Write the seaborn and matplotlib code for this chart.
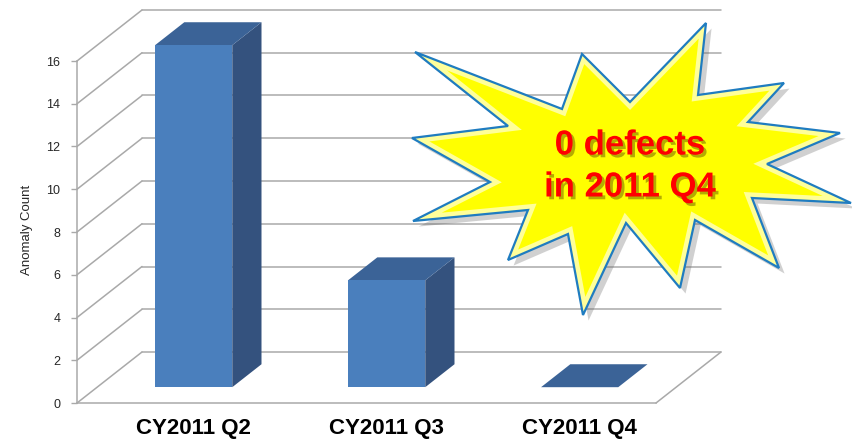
import matplotlib
matplotlib.use("Agg")
import matplotlib.pyplot as plt
import matplotlib.patheffects as pe
import matplotlib.transforms as mtransforms
from matplotlib.patches import Polygon
from matplotlib import font_manager as fm
import pandas as pd
import seaborn as sns

# ── data ───────────────────────────────────────────────────────────────────
quarters = ["CY2011 Q2", "CY2011 Q3", "CY2011 Q4"]
anomalies = [16, 5, 0]
y_ticks = [0, 2, 4, 6, 8, 10, 12, 14, 16]
callout_lines = ["0 defects", "in 2011 Q4"]

# ── layout / style ─────────────────────────────────────────────────────────
W, H, DPI = 853, 444, 100
AX_PX = (77, 41, 579, 342)          # left, bottom, width, height in pixels
DEPTH_PX = (65, 51)                 # oblique depth vector (pixels)
BAR_D0, BAR_D1 = 0.31, 0.76         # bar front / back depth fraction

FRONT = "#4a7fbd"
SIDE = "#34527e"
TOP = "#3b6397"
GRID = "#a9a9a9"

sns.set_theme(style="white")
names = {f.name for f in fm.fontManager.ttflist}
plt.rcParams["font.family"] = ["Liberation Sans", "DejaVu Sans"]
narrow = "Liberation Sans Narrow" in names

fig = plt.figure(figsize=(W / DPI, H / DPI), dpi=DPI)
fig.patch.set_facecolor("white")
ax = fig.add_axes([AX_PX[0] / W, AX_PX[1] / H, AX_PX[2] / W, AX_PX[3] / H])

df = pd.DataFrame({"quarter": quarters, "count": anomalies})
sns.barplot(data=df, x="quarter", y="count", width=0.4, color=FRONT,
            saturation=1, linewidth=0, ax=ax, zorder=5)

ax.set_xlim(-0.5, len(quarters) - 0.5)
ax.set_ylim(0, max(y_ticks))
px_x = AX_PX[2] / len(quarters)
px_y = AX_PX[3] / max(y_ticks)


def off(d):
    """Depth offset converted to data units."""
    return DEPTH_PX[0] * d / px_x, DEPTH_PX[1] * d / px_y


xl, xr = ax.get_xlim()
bx, by = off(1.0)

# back wall grid + left wall diagonals
for v in y_ticks:
    ax.plot([xl + bx, xr + bx], [v + by, v + by], color=GRID, lw=1.1,
            clip_on=False, zorder=1)
    ax.plot([xl, xl + bx], [v, v + by], color=GRID, lw=1.1,
            clip_on=False, zorder=1)
# floor right edge
ax.plot([xr, xr + bx], [0, by], color=GRID, lw=1.1, clip_on=False, zorder=1)

# 3-D bars built from seaborn's patches
dx0, dy0 = off(BAR_D0)
dx1, dy1 = off(BAR_D1)
for patch in ax.patches:
    x0, w, h = patch.get_x(), patch.get_width(), patch.get_height()
    x1 = x0 + w
    patch.set_x(x0 + dx0)
    patch.set_y(dy0)
    patch.set_clip_on(False)
    side = Polygon([(x1 + dx0, dy0), (x1 + dx1, dy1), (x1 + dx1, h + dy1),
                    (x1 + dx0, h + dy0)], closed=True, facecolor=SIDE,
                   edgecolor="none", clip_on=False, zorder=4)
    top = Polygon([(x0 + dx0, h + dy0), (x1 + dx0, h + dy0),
                   (x1 + dx1, h + dy1), (x0 + dx1, h + dy1)], closed=True,
                  facecolor=TOP, edgecolor="none", clip_on=False, zorder=4)
    ax.add_patch(side)
    ax.add_patch(top)

# axes cosmetics
for s in ["top", "right"]:
    ax.spines[s].set_visible(False)
for s in ["left", "bottom"]:
    ax.spines[s].set_color(GRID)
    ax.spines[s].set_linewidth(1.1)
ax.set_yticks(y_ticks)
ax.tick_params(axis="y", left=True, length=4, width=1, color=GRID, pad=8,
               labelsize=9, labelcolor="#262626")
ax.tick_params(axis="x", bottom=False, length=0, pad=11)
ax.set_xlabel("")
ax.set_ylabel("Anomaly Count", fontsize=9.5, color="#262626")
ax.yaxis.set_label_coords((33 - AX_PX[0]) / AX_PX[2], 0.505)

shift = mtransforms.ScaledTranslation(DEPTH_PX[0] * BAR_D0 / DPI, 0,
                                      fig.dpi_scale_trans)
for lab in ax.get_xticklabels():
    lab.set_transform(lab.get_transform() + shift)
    lab.set_fontweight("bold")
    lab.set_color("black")
    if narrow:
        lab.set_family("Liberation Sans Narrow")
        lab.set_fontsize(20)
    else:
        lab.set_fontsize(16)

# ── starburst callout (pixel coordinates, origin top-left) ────────────────
star = [(415, 52), (562, 109), (582, 54), (630, 102), (706, 23), (698, 95),
        (784, 83), (748, 122), (840, 133), (767, 164), (851, 203), (752, 198),
        (779, 268), (695, 220), (680, 288), (626, 223), (583, 315), (568, 234),
        (508, 260), (528, 210), (413, 221), (490, 182), (412, 138), (508, 126)]
px_trans = mtransforms.Affine2D().scale(1 / W, -1 / H).translate(0, 1) + fig.transFigure

fill = Polygon(star, closed=True, facecolor="#ffff00", edgecolor="none",
               transform=px_trans, zorder=10,
               path_effects=[pe.SimplePatchShadow(offset=(4, -4),
                                                  shadow_rgbFace="#666666",
                                                  alpha=0.3), pe.Normal()])
fig.add_artist(fill)
glow = Polygon(star, closed=True, facecolor="none", edgecolor="#ffff9a",
               lw=8, transform=px_trans, zorder=11)
fig.add_artist(glow)
glow.set_clip_path(fill)
edge = Polygon(star, closed=True, facecolor="none", edgecolor="#1f7cc0",
               lw=1.6, joinstyle="miter", transform=px_trans, zorder=12)
fig.add_artist(edge)

for (cx, cy), line in zip([(630, 145), (630, 187)], callout_lines):
    fig.text(cx / W, 1 - cy / H, line, ha="center", va="center",
             fontsize=25, fontweight="bold", color="#ff0000", zorder=13,
             path_effects=[pe.SimplePatchShadow(offset=(2, -2),
                                                shadow_rgbFace="#6b5a00",
                                                alpha=0.5), pe.Normal()])

fig.savefig("out.png", dpi=DPI)
